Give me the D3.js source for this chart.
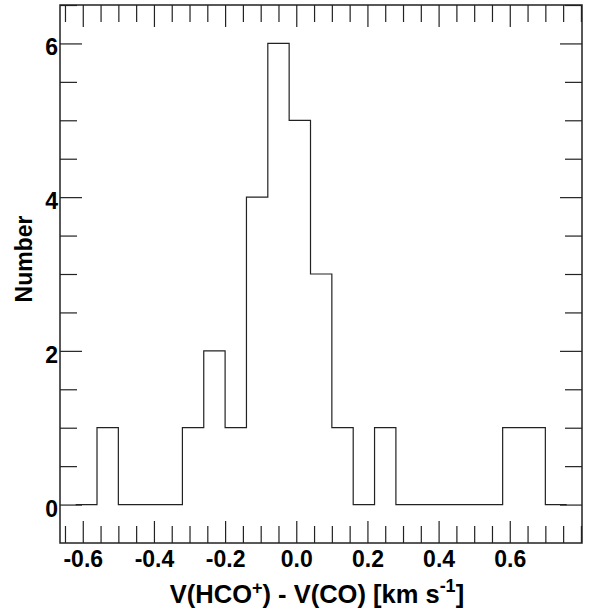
<!DOCTYPE html>
<html><head><meta charset="utf-8">
<script src="https://cdn.jsdelivr.net/npm/d3@7"></script>
<style>
html,body{margin:0;padding:0;background:#fff;}
svg{display:block;}
text{font-family:"Liberation Sans",Arial,Helvetica,sans-serif;font-weight:bold;fill:#000;}
</style></head>
<body><svg id="c" width="591" height="612"></svg>
<script>
// Histogram bin edges (left edges) and counts
const binStarts = [-0.62,-0.56,-0.50,-0.44,-0.38,-0.32,-0.26,-0.20,-0.14,-0.08,-0.02,0.04,0.10,0.16,0.22,0.28,0.34,0.40,0.46,0.52,0.58,0.64,0.70];
const binWidth = 0.06;
const counts = [0,1,0,0,0,1,2,1,4,6,5,3,1,0,1,0,0,0,0,0,1,1,0];
const xMajorTicks = [-0.6,-0.4,-0.2,0.0,0.2,0.4,0.6];
const yMajorTicks = [0,2,4,6];
const xLabel = "V(HCO";
const yLabel = "Number";

const svg = d3.select("#c");
const L=60,R=582,T=5,B=543;
const x = d3.scaleLinear().domain([-0.664,0.803]).range([L,R]);
const y = d3.scaleLinear().domain([-0.5,6.5]).range([B,T]);
const col="#222";

const xMinor = d3.range(-0.65,0.801,0.05).map(v=>+v.toFixed(2)).filter(v=>!xMajorTicks.some(m=>Math.abs(m-v)<1e-6));
const yMinor = d3.range(0,6.51,0.5).filter(v=>!yMajorTicks.includes(v));
const fmt = v => d3.format(".1f")(v).replace("\u2212","-");

function styleAxis(g){
  g.select(".domain").remove();
  g.selectAll(".tick line").attr("stroke",col).attr("stroke-width",1.2);
}
// bottom
svg.append("g").attr("transform",`translate(0,${B})`)
  .call(d3.axisBottom(x).tickValues(xMajorTicks).tickSize(-22).tickPadding(0).tickFormat(fmt))
  .call(styleAxis)
  .call(g=>g.selectAll("text").attr("font-size",23).attr("dy",null).attr("y",23.7));
svg.append("g").attr("transform",`translate(0,${B})`)
  .call(d3.axisBottom(x).tickValues(xMinor).tickSize(-17).tickFormat(""))
  .call(styleAxis);
// top
svg.append("g").attr("transform",`translate(0,${T})`)
  .call(d3.axisTop(x).tickValues(xMajorTicks).tickSize(-22).tickFormat(""))
  .call(styleAxis);
svg.append("g").attr("transform",`translate(0,${T})`)
  .call(d3.axisTop(x).tickValues(xMinor).tickSize(-17).tickFormat(""))
  .call(styleAxis);
// left
svg.append("g").attr("transform",`translate(${L},0)`)
  .call(d3.axisLeft(y).tickValues(yMajorTicks).tickSize(-22).tickPadding(0).tickFormat(d3.format("d")))
  .call(styleAxis)
  .call(g=>g.selectAll("text").attr("font-size",23).attr("x",-2).attr("dy",null).attr("y",11.5));
svg.append("g").attr("transform",`translate(${L},0)`)
  .call(d3.axisLeft(y).tickValues(yMinor).tickSize(-17).tickFormat(""))
  .call(styleAxis);
// right
svg.append("g").attr("transform",`translate(${R},0)`)
  .call(d3.axisRight(y).tickValues(yMajorTicks).tickSize(-22).tickFormat(""))
  .call(styleAxis);
svg.append("g").attr("transform",`translate(${R},0)`)
  .call(d3.axisRight(y).tickValues(yMinor).tickSize(-17).tickFormat(""))
  .call(styleAxis);

// frame
svg.append("rect").attr("x",L).attr("y",T).attr("width",R-L).attr("height",B-T)
  .attr("fill","none").attr("stroke",col).attr("stroke-width",1.5);

// histogram
const pts = binStarts.map((s,i)=>[s,counts[i]]);
pts.push([binStarts[binStarts.length-1]+binWidth, counts[counts.length-1]]);
svg.append("path").datum(pts)
  .attr("d", d3.line().x(d=>x(d[0])).y(d=>y(d[1])).curve(d3.curveStepAfter))
  .attr("fill","none").attr("stroke",col).attr("stroke-width",1.2);

// axis titles
const xt = svg.append("text").attr("x",(L+R)/2-4).attr("y",603).attr("text-anchor","middle").attr("font-size",25.5);
xt.append("tspan").text(xLabel);
xt.append("tspan").attr("font-size",18).attr("dy",-9).text("+");
xt.append("tspan").attr("dy",9).text(") - V(CO) [km s");
xt.append("tspan").attr("font-size",18).attr("dy",-11).text("-1");
xt.append("tspan").attr("dy",11).text("]");

svg.append("text").attr("transform",`translate(32,259) rotate(-90)`)
  .attr("text-anchor","middle").attr("font-size",23).text(yLabel);
</script></body></html>
